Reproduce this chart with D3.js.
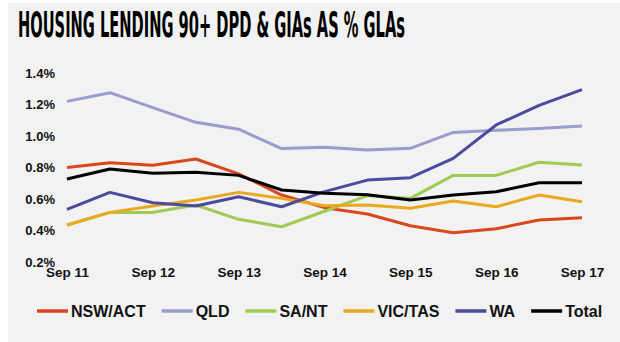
<!DOCTYPE html>
<html>
<head>
<meta charset="utf-8">
<script src="https://cdn.jsdelivr.net/npm/d3@7"></script>
<style>
  body { margin: 0; background: #fff; }
  #chart { width: 620px; height: 342px; }
  text { font-family: Arial, "Liberation Sans", sans-serif; font-weight: bold; fill: #111; }
</style>
</head>
<body>
<div id="chart"></div>
<script>
var width = 620, height = 342;

// half-year periods, Sep 11 .. Sep 17
var periods = ["Sep 11","Mar 12","Sep 12","Mar 13","Sep 13","Mar 14","Sep 14","Mar 15","Sep 15","Mar 16","Sep 16","Mar 17","Sep 17"];
var tickLabels = ["Sep 11","Sep 12","Sep 13","Sep 14","Sep 15","Sep 16","Sep 17"];
var yTicks = [0.2, 0.4, 0.6, 0.8, 1.0, 1.2, 1.4];

var seriesNames = ["NSW/ACT","QLD","SA/NT","VIC/TAS","WA","Total"];
var seriesColors = ["#d8471d","#9b9bd0","#9fcb52","#e9a81d","#4b4a9c","#000000"];

var nswAct = [0.80, 0.83, 0.814, 0.854, 0.76, 0.625, 0.545, 0.505, 0.43, 0.386, 0.411, 0.467, 0.481];
var qld    = [1.22, 1.275, 1.18, 1.087, 1.043, 0.92, 0.928, 0.911, 0.922, 1.023, 1.036, 1.047, 1.063];
var saNt   = [0.435, 0.515, 0.515, 0.562, 0.471, 0.424, 0.522, 0.621, 0.604, 0.75, 0.75, 0.833, 0.816];
var vicTas = [0.435, 0.515, 0.555, 0.594, 0.642, 0.604, 0.557, 0.562, 0.541, 0.587, 0.551, 0.625, 0.583];
var wa     = [0.534, 0.642, 0.576, 0.555, 0.614, 0.551, 0.647, 0.72, 0.735, 0.858, 1.07, 1.195, 1.294];
var total  = [0.727, 0.79, 0.763, 0.77, 0.75, 0.657, 0.636, 0.627, 0.594, 0.625, 0.646, 0.703, 0.703];

var seriesValues = [nswAct, qld, saNt, vicTas, wa, total];

var svg = d3.select("#chart")
    .append("svg")
    .attr("width", width)
    .attr("height", height);

// grey panel
svg.append("rect")
    .attr("x", 8).attr("y", 3)
    .attr("width", width - 8).attr("height", height - 3)
    .attr("fill", "#f2f2f2");

// title
svg.append("text")
    .attr("x", 18).attr("y", 37)
    .attr("textLength", 387)
    .attr("lengthAdjust", "spacingAndGlyphs")
    .style("font-family", "'Liberation Sans Narrow', 'DejaVu Sans Condensed', Arial, sans-serif")
    .style("font-size", "35px")
    .style("fill", "#000")
    .text("HOUSING LENDING 90+ DPD & GIAs AS % GLAs");

var xScale = d3.scaleLinear()
    .domain([0, periods.length - 1])
    .range([67, 582]);

var yScale = d3.scaleLinear()
    .domain([0.2, 1.4])
    .range([262, 73]);

// y axis
var yAxis = svg.append("g")
    .attr("transform", "translate(55,0)")
    .call(d3.axisLeft(yScale).tickValues(yTicks).tickSize(0).tickPadding(0)
        .tickFormat(function(d) { return d3.format(".1f")(d) + "%"; }));
yAxis.select(".domain").remove();
yAxis.selectAll("text")
    .style("font-size", "13px")
    .style("font-family", "Arial, 'Liberation Sans', sans-serif")
    .attr("fill", "#111");

// x axis labels at Sep periods only
var xAxis = svg.append("g")
    .attr("transform", "translate(0,267)")
    .call(d3.axisBottom(xScale)
        .tickValues(tickLabels.map(function(t) { return periods.indexOf(t); }))
        .tickSize(0).tickPadding(0)
        .tickFormat(function(i) { return periods[i]; }));
xAxis.select(".domain").remove();
xAxis.selectAll("text")
    .style("font-size", "13.5px")
    .style("font-family", "Arial, 'Liberation Sans', sans-serif")
    .attr("fill", "#111");

// lines
var line = d3.line()
    .x(function(d, i) { return xScale(i); })
    .y(function(d) { return yScale(d); });

svg.selectAll(".series")
    .data(seriesValues)
    .enter()
    .append("path")
    .attr("class", "series")
    .attr("d", line)
    .attr("fill", "none")
    .attr("stroke", function(d, i) { return seriesColors[i]; })
    .attr("stroke-width", 3)
    .attr("stroke-linejoin", "round");

// legend
var lx = 37;
seriesNames.forEach(function(name, i) {
    svg.append("line")
        .attr("x1", lx).attr("x2", lx + 31)
        .attr("y1", 311).attr("y2", 311)
        .attr("stroke", seriesColors[i])
        .attr("stroke-width", 3.5);
    var t = svg.append("text")
        .attr("x", lx + 34).attr("y", 317)
        .style("font-size", "16px")
        .text(name);
    lx += 34 + t.node().getComputedTextLength() + 16;
});
</script>
</body>
</html>
